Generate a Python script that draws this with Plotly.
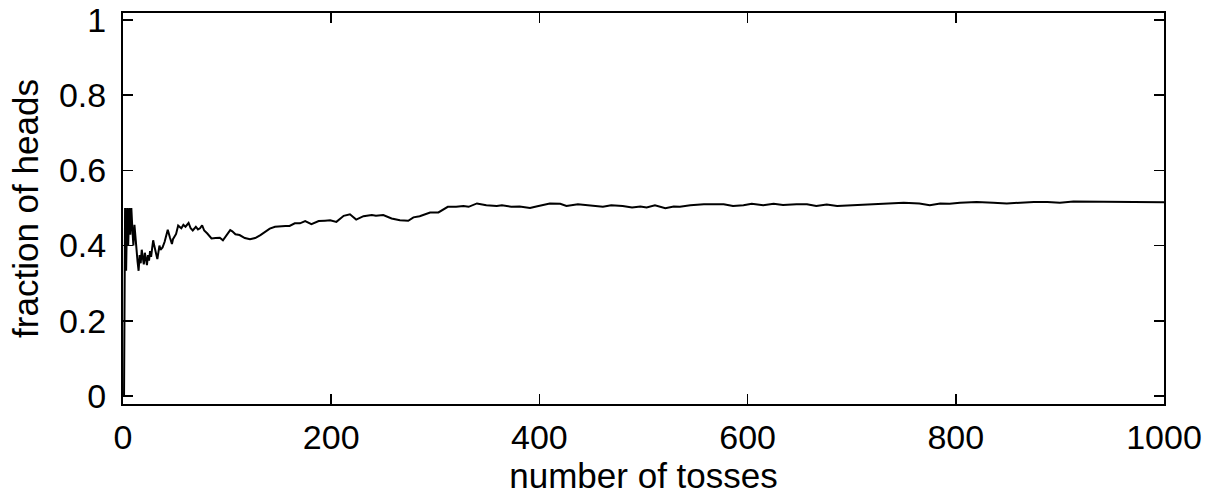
import plotly.graph_objects as go

# number of tosses (x) and fraction of heads (y)
tosses = [1, 2, 3, 4, 5, 6, 7, 8, 9, 10, 11, 12, 13, 14, 15, 16, 17, 18, 19, 20,
          21, 22, 23, 24, 25, 26, 27, 28, 29, 30, 31, 32, 33, 34, 35, 36, 38, 40,
          42, 43, 45, 47, 48, 51, 53, 56, 58, 60, 63, 65, 67, 70, 72, 74, 76, 78,
          81, 85, 89, 93, 96, 100, 103, 105, 108, 112, 117, 122, 127, 132, 136,
          141, 146, 151, 156, 160, 165, 170, 175, 181, 188, 194, 199, 205, 212,
          218, 224, 231, 239, 243, 250, 258, 266, 274, 279, 285, 295, 303, 312,
          320, 327, 332, 340, 349, 359, 364, 373, 381, 391, 397, 410, 420, 426,
          437, 450, 461, 469, 480, 489, 497, 503, 511, 521, 529, 535, 545, 558,
          577, 586, 596, 604, 615, 625, 634, 647, 657, 666, 676, 686, 699, 708,
          718, 734, 750, 765, 775, 785, 794, 804, 820, 836, 849, 862, 875, 888,
          900, 913, 932, 951, 971, 984, 1000]
fraction = [0.0, 0.5, 0.333, 0.5, 0.4, 0.5, 0.429, 0.5, 0.444, 0.4, 0.455, 0.417,
            0.385, 0.357, 0.333, 0.375, 0.353, 0.389, 0.368, 0.35, 0.381, 0.364,
            0.348, 0.375, 0.36, 0.385, 0.37, 0.393, 0.414, 0.4, 0.387, 0.375,
            0.364, 0.382, 0.4, 0.389, 0.395, 0.41, 0.429, 0.442, 0.422, 0.404,
            0.417, 0.431, 0.453, 0.446, 0.455, 0.45, 0.46, 0.446, 0.44, 0.45,
            0.443, 0.446, 0.454, 0.44, 0.432, 0.419, 0.42, 0.421, 0.414, 0.43,
            0.441, 0.438, 0.43, 0.428, 0.42, 0.417, 0.42, 0.428, 0.435, 0.445,
            0.45, 0.452, 0.452, 0.452, 0.459, 0.459, 0.465, 0.457, 0.465, 0.466,
            0.467, 0.463, 0.479, 0.483, 0.469, 0.478, 0.481, 0.479, 0.481, 0.472,
            0.467, 0.466, 0.475, 0.478, 0.488, 0.488, 0.503, 0.503, 0.505, 0.503,
            0.512, 0.507, 0.505, 0.507, 0.503, 0.504, 0.5, 0.504, 0.512, 0.511,
            0.505, 0.51, 0.507, 0.503, 0.507, 0.505, 0.501, 0.504, 0.501, 0.507,
            0.499, 0.504, 0.503, 0.507, 0.51, 0.51, 0.505, 0.507, 0.511, 0.507,
            0.511, 0.508, 0.51, 0.51, 0.505, 0.509, 0.505, 0.507, 0.509, 0.51,
            0.512, 0.514, 0.512, 0.507, 0.512, 0.511, 0.514, 0.516, 0.514, 0.512,
            0.514, 0.516, 0.516, 0.514, 0.517, 0.517, 0.517, 0.517, 0.517, 0.515]

x_ticks = [0, 200, 400, 600, 800, 1000]
y_ticks = [0, 0.2, 0.4, 0.6, 0.8, 1]
y_tick_labels = ["0", "0.2", "0.4", "0.6", "0.8", "1"]

FONT = "Liberation Sans, Arial, Helvetica, sans-serif"

fig = go.Figure()
fig.add_trace(go.Scatter(x=tosses, y=fraction, mode="lines",
                         line=dict(color="black", width=2),
                         showlegend=False, hoverinfo="skip"))

axis_common = dict(showline=True, linecolor="black", linewidth=2, mirror="ticks",
                   ticks="inside", ticklen=10, tickwidth=1.5, tickcolor="black",
                   showgrid=False, zeroline=False, automargin=False,
                   ticklabeloverflow="allow",
                   tickfont=dict(family=FONT, size=34, color="black"))

fig.update_xaxes(range=[0, 1000], tickvals=x_ticks, ticklabelstandoff=2,
                 title=dict(text="number of tosses", standoff=0,
                            font=dict(family=FONT, size=35, color="black")),
                 **axis_common)
fig.update_yaxes(range=[-0.021, 1.018], tickvals=y_ticks, ticktext=y_tick_labels,
                 ticklabelstandoff=8,
                 title=dict(text="fraction of heads", standoff=10,
                            font=dict(family=FONT, size=35, color="black")),
                 **axis_common)

fig.update_layout(width=1209, height=497,
                  margin=dict(l=123, r=45, t=13, b=93),
                  plot_bgcolor="white", paper_bgcolor="white")

# remove the default 8px page margin so the figure fills the window exactly
fig.write_html("out.html",
               config={"displayModeBar": False, "staticPlot": True},
               post_script="document.body.style.margin='0px';"
                           "document.body.style.overflow='hidden';")
